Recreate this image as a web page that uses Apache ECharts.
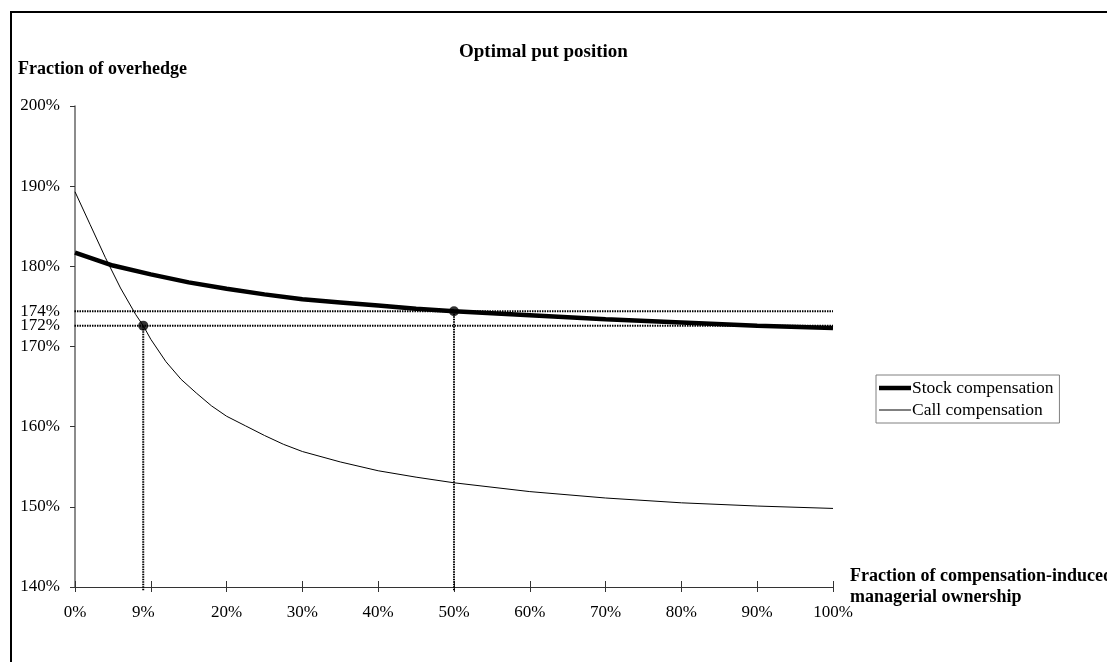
<!DOCTYPE html>
<html>
<head>
<meta charset="utf-8">
<script src="https://cdn.jsdelivr.net/npm/echarts@6/dist/echarts.min.js"></script>
<style>
  html, body { margin: 0; padding: 0; background: #fff; }
  #chart { width: 1107px; height: 662px; }
</style>
</head>
<body>
<div id="chart"></div>
<script>
// ---- data ----
const titleText = 'Optimal put position';
const yAxisName = 'Fraction of overhedge';
const xAxisName = 'Fraction of compensation-induced\nmanagerial ownership';
const seriesNames = ['Stock compensation', 'Call compensation'];

const stockX = [0, 5, 10, 15, 20, 25, 30, 35, 40, 45, 50, 60, 70, 80, 90, 100];
const stockY = [181.7, 180.1, 179.0, 178.0, 177.2, 176.5, 175.9, 175.5, 175.1, 174.7, 174.4, 173.9, 173.4, 173.0, 172.6, 172.3];

const callX = [0, 2, 4, 6, 8, 9, 10, 12, 14, 16, 18, 20, 22.5, 25, 27.5, 30, 35, 40, 45, 50, 60, 70, 80, 90, 100];
const callY = [189.3, 185.2, 181.1, 177.3, 174.0, 172.6, 170.9, 168.1, 165.9, 164.2, 162.6, 161.3, 160.1, 158.9, 157.8, 156.9, 155.6, 154.5, 153.7, 153.0, 151.9, 151.1, 150.5, 150.1, 149.8];

const refX = [9, 50];          // optimal ownership points
const refY = [172.6, 174.4];   // corresponding overhedge

const xTickValues = [0, 10, 20, 30, 40, 50, 60, 70, 80, 90, 100];
const xLabelValues = [0, 9, 20, 30, 40, 50, 60, 70, 80, 90, 100];
const yTickValues = [140, 150, 160, 170, 180, 190, 200];
const yLabelValues = [140, 150, 160, 170, 172.6, 174.4, 180, 190, 200];
const yLabelTexts = ['140%', '150%', '160%', '170%', '172%', '174%', '180%', '190%', '200%'];

// ---- chart ----
const FONT = '"Liberation Serif", "Times New Roman", serif';
const chart = echarts.init(document.getElementById('chart'), null, { renderer: 'canvas' });

const zip = (xs, ys) => xs.map((x, i) => [x, ys[i]]);

const refSeries = [];
refY.forEach((y, i) => {
  refSeries.push({
    type: 'line', data: [[-0.4, y], [100, y]], clip: false, symbol: 'none', silent: true,
    lineStyle: { color: '#000', width: 2, type: [1.5, 1] }, z: 1
  });
  refSeries.push({
    type: 'line', data: [[refX[i], 139.6], [refX[i], y]], clip: false, symbol: 'none', silent: true,
    lineStyle: { color: '#000', width: 2, type: [1.5, 1] }, z: 1
  });
});

const option = {
  backgroundColor: '#fff',
  animation: false,
  title: [
    { text: titleText, left: 459, top: 43, padding: 0,
      textStyle: { fontFamily: FONT, fontSize: 19, fontWeight: 'bold', color: '#000' } },
    { text: yAxisName, left: 18, top: 60, padding: 0,
      textStyle: { fontFamily: FONT, fontSize: 18, fontWeight: 'bold', color: '#000' } }
  ],
  legend: {
    left: 876, top: 375, orient: 'vertical',
    data: [
      { name: seriesNames[0], icon: 'path://M0,0H32V4.5H0Z' },
      { name: seriesNames[1], icon: 'path://M0,0H32V1H0Z' }
    ],
    symbolKeepAspect: true,
    borderColor: '#808080', borderWidth: 1, padding: [4, 6, 4, 3],
    itemGap: 4, itemWidth: 32, itemHeight: 14,
    textStyle: { fontFamily: FONT, fontSize: 17.5, color: '#000', padding: [0, 0, 0, -4] }
  },
  grid: { left: 75, right: 274, top: 106, bottom: 75, outerBoundsMode: 'none', containLabel: false },
  xAxis: [
    {
      type: 'value', min: 0, max: 100, interval: 10,
      name: xAxisName, nameLocation: 'end', nameGap: 17, nameMoveOverlap: false,
      nameTextStyle: { fontFamily: FONT, fontSize: 18, fontWeight: 'bold', color: '#000', align: 'left', lineHeight: 21 },
      axisLine: { show: true, lineStyle: { color: '#333', width: 1 } },
      axisTick: { show: true, length: 5, customValues: xTickValues, lineStyle: { color: '#333' } },
      axisLabel: { customValues: xLabelValues, formatter: v => v + '%', margin: 17,
        fontFamily: FONT, fontSize: 17, color: '#000' },
      splitLine: { show: false }
    },
    {
      type: 'value', min: 0, max: 100, interval: 10, position: 'bottom',
      axisLine: { show: false },
      axisTick: { show: true, inside: true, length: 6, customValues: xTickValues, lineStyle: { color: '#333' } },
      axisLabel: { show: false },
      splitLine: { show: false }
    }
  ],
  yAxis: {
    type: 'value', min: 140, max: 200, interval: 10,
    axisLine: { show: true, lineStyle: { color: '#666', width: 1.5 } },
    axisTick: { show: true, length: 5, customValues: yTickValues, lineStyle: { color: '#333' } },
    axisLabel: {
      customValues: yLabelValues,
      formatter: v => { const i = yLabelValues.findIndex(t => Math.abs(t - v) < 1e-6); return i >= 0 ? yLabelTexts[i] : ''; },
      margin: 15, fontFamily: FONT, fontSize: 17, color: '#000'
    },
    splitLine: { show: false }
  },
  graphic: [
    { type: 'rect', shape: { x: 11, y: 12, width: 1200, height: 700 }, silent: true,
      style: { fill: 'none', stroke: '#000', lineWidth: 2 }, z: -10 }
  ],
  series: [
    ...refSeries,
    { name: seriesNames[0], type: 'line', data: zip(stockX, stockY), symbol: 'none',
      lineStyle: { color: '#000', width: 4.5 }, itemStyle: { color: '#000' }, z: 3 },
    { name: seriesNames[1], type: 'line', data: zip(callX, callY), symbol: 'none',
      lineStyle: { color: '#000', width: 1 }, itemStyle: { color: '#000' }, z: 3 },
    { type: 'scatter', data: zip(refX, refY), symbol: 'circle', symbolSize: 10,
      itemStyle: { color: '#000' }, z: 4, silent: true }
  ]
};
chart.setOption(option);
</script>
</body>
</html>
